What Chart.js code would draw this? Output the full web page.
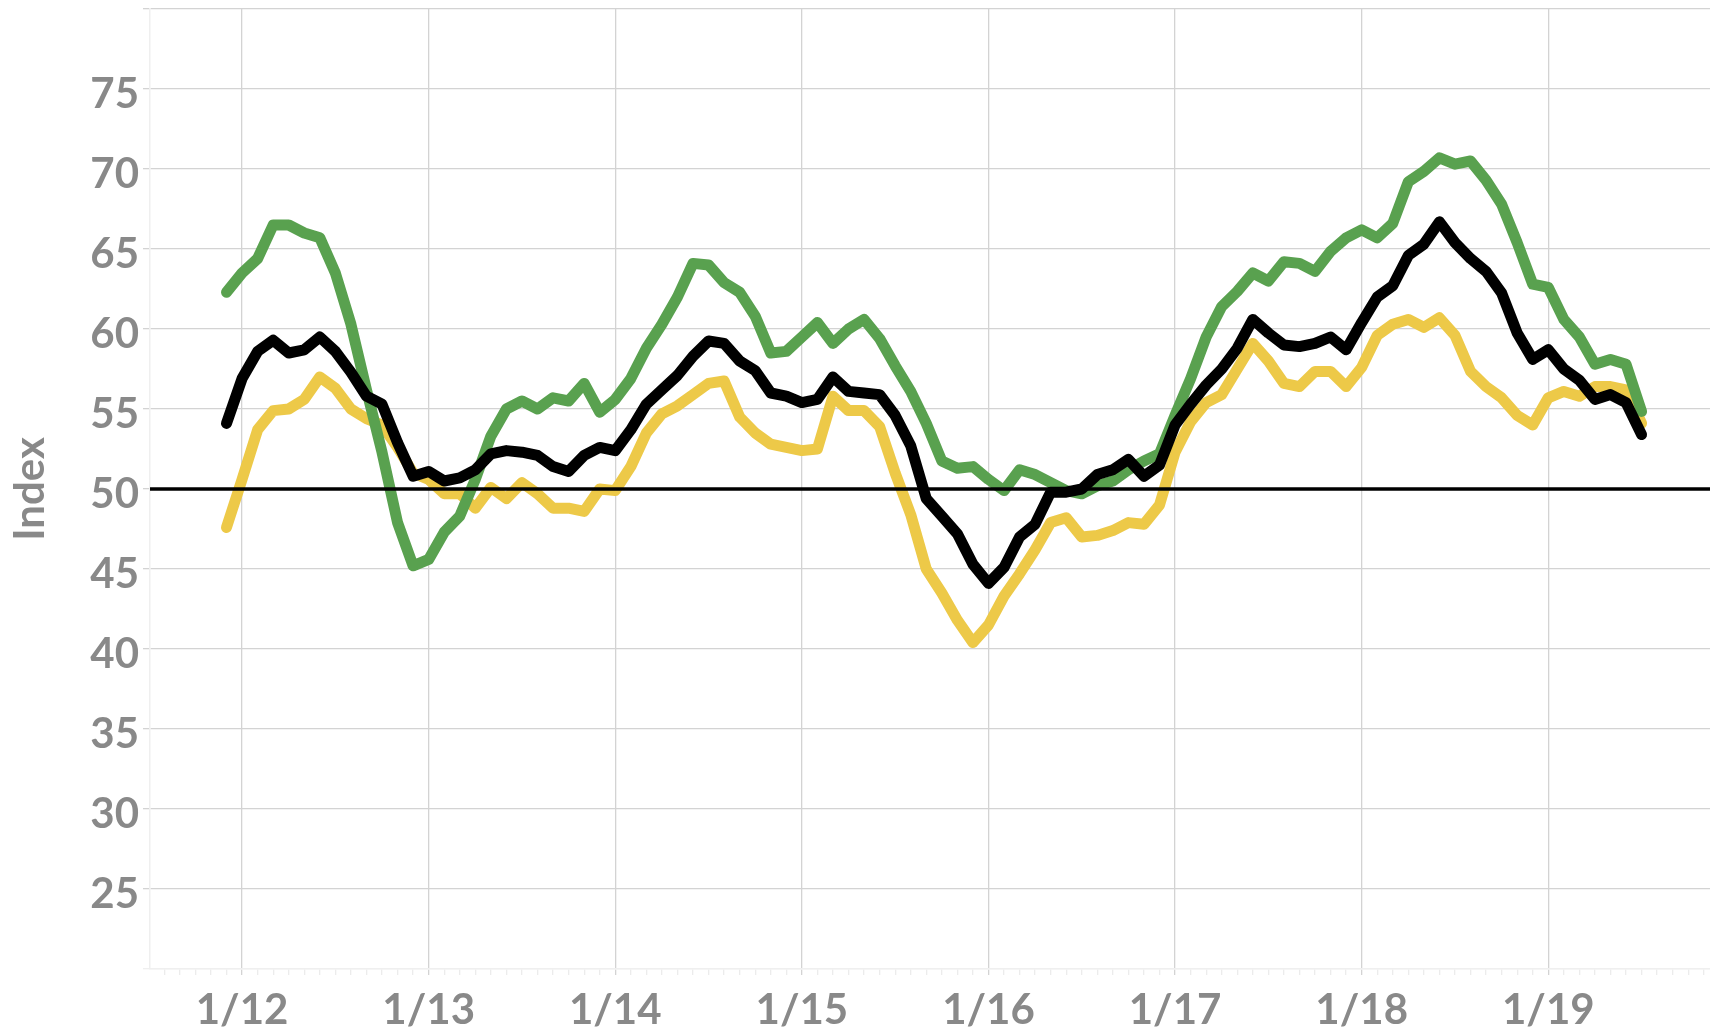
<!DOCTYPE html>
<html>
<head>
<meta charset="utf-8">
<script src="https://cdn.jsdelivr.net/npm/chart.js@4.4.1/dist/chart.umd.min.js"></script>
<style>
  html, body { margin: 0; padding: 0; background: #fff; }
  #wrap { width: 1710px; height: 1034px; }
</style>
</head>
<body>
<div id="wrap"><canvas id="lineGraph"></canvas></div>
<script>
// month index: 0 = Jan 2012, first point is Dec 2011
const FIRST_MONTH = -1;
const yearLabels = ['1/12', '1/13', '1/14', '1/15', '1/16', '1/17', '1/18', '1/19'];

const greenValues = [
  62.3, 63.5, 64.4, 66.5, 66.5, 66.0, 65.7, 63.5, 60.3, 56.2, 52.3, 47.9,
  45.2, 45.6, 47.3, 48.3, 50.6, 53.3, 55.0, 55.5, 55.0, 55.7, 55.5, 56.6, 54.8,
  55.6, 56.9, 58.8, 60.3, 62.0, 64.1, 64.0, 62.9, 62.3, 60.8, 58.5, 58.6,
  59.5, 60.4, 59.1, 60.0, 60.6, 59.4, 57.7, 56.1, 54.1, 51.75, 51.3, 51.4,
  50.6, 49.9, 51.2, 50.9, 50.4, 49.9, 49.7, 50.2, 50.5, 51.2, 51.75, 52.2,
  54.6, 56.9, 59.5, 61.4, 62.35, 63.5, 63.0, 64.2, 64.1, 63.6, 64.85, 65.7,
  66.2, 65.7, 66.6, 69.2, 69.85, 70.7, 70.3, 70.5, 69.3, 67.8, 65.4, 62.8,
  62.6, 60.6, 59.5, 57.8, 58.1, 57.8, 54.85
];

const blackValues = [
  54.1, 56.9, 58.6, 59.3, 58.5, 58.7, 59.5, 58.6, 57.3, 55.8, 55.3, 52.9,
  50.8, 51.1, 50.5, 50.7, 51.2, 52.2, 52.4, 52.3, 52.1, 51.4, 51.1, 52.1, 52.6,
  52.4, 53.7, 55.3, 56.2, 57.1, 58.3, 59.25, 59.1, 58.0, 57.4, 56.0, 55.8,
  55.4, 55.6, 57.0, 56.1, 56.0, 55.9, 54.6, 52.7, 49.4, 48.3, 47.2, 45.3,
  44.1, 45.1, 47.0, 47.8, 49.8, 49.8, 50.0, 50.9, 51.2, 51.85, 50.8, 51.5,
  54.0, 55.3, 56.5, 57.5, 58.8, 60.6, 59.75, 59.0, 58.9, 59.1, 59.5, 58.7,
  60.4, 62.0, 62.7, 64.6, 65.3, 66.7, 65.4, 64.4, 63.6, 62.25, 59.75, 58.1,
  58.7, 57.5, 56.8, 55.6, 55.9, 55.4, 53.4
];

const yellowValues = [
  47.6, 50.6, 53.7, 54.9, 55.0, 55.6, 57.0, 56.3, 55.0, 54.4, 54.0, 52.6,
  51.0, 50.6, 49.7, 49.7, 48.8, 50.1, 49.4, 50.4, 49.7, 48.8, 48.8, 48.6, 50.0,
  49.9, 51.4, 53.5, 54.7, 55.2, 55.9, 56.6, 56.75, 54.5, 53.5, 52.8, 52.6,
  52.4, 52.5, 55.8, 54.9, 54.9, 53.9, 51.0, 48.4, 45.0, 43.5, 41.8, 40.4,
  41.5, 43.3, 44.7, 46.2, 47.9, 48.2, 47.0, 47.1, 47.4, 47.9, 47.8, 49.0,
  52.3, 54.2, 55.4, 55.9, 57.5, 59.1, 58.0, 56.6, 56.4, 57.35, 57.35, 56.4,
  57.6, 59.6, 60.3, 60.6, 60.1, 60.7, 59.6, 57.35, 56.4, 55.7, 54.6, 54.0,
  55.7, 56.1, 55.8, 56.4, 56.4, 56.2, 54.1
];

const BASELINE = 50;
const TEXT_GRAY = '#898989';
const GRID = '#d3d3d3';
const FONT = { family: 'Lato', size: 42, weight: 'bold' };

function toPoints(values) {
  return values.map((v, i) => ({ x: FIRST_MONTH + i, y: v }));
}

// horizontal line at 50
const baselinePlugin = {
  id: 'baseline',
  afterDatasetsDraw(chart) {
    const ctx = chart.ctx;
    const area = chart.chartArea;
    const y = chart.scales.y.getPixelForValue(BASELINE);
    ctx.save();
    ctx.strokeStyle = '#000';
    ctx.lineWidth = 3.5;
    ctx.beginPath();
    ctx.moveTo(area.left, y);
    ctx.lineTo(area.right, y);
    ctx.stroke();
    ctx.restore();
  }
};

function lineSet(values, color, order) {
  return {
    data: toPoints(values),
    borderColor: color,
    backgroundColor: color,
    borderWidth: 11,
    borderCapStyle: 'round',
    borderJoinStyle: 'round',
    pointRadius: 0,
    tension: 0,
    order: order
  };
}

const ctx = document.getElementById('lineGraph').getContext('2d');
const myChart = new Chart(ctx, {
  type: 'line',
  data: {
    datasets: [
      lineSet(blackValues, '#000000', 1),
      lineSet(greenValues, '#59a14f', 2),
      lineSet(yellowValues, '#edc948', 3)
    ]
  },
  options: {
    responsive: true,
    maintainAspectRatio: false,
    animation: false,
    layout: { padding: { top: 9, right: 0, bottom: 0, left: 0 } },
    plugins: {
      legend: { display: false },
      tooltip: { enabled: false }
    },
    scales: {
      x: {
        type: 'linear',
        min: -5.92,
        max: 94.4,
        afterBuildTicks: function(scale) {
          const ticks = [];
          for (let m = -5; m <= 94; m++) ticks.push({ value: m });
          scale.ticks = ticks;
        },
        afterFit: function(scale) {
          scale.height = 65;
          scale.paddingLeft = 0;
          scale.paddingRight = 0;
        },
        grid: {
          color: c => (c.tick && c.tick.value % 12 === 0) ? GRID : 'rgba(0,0,0,0)',
          tickColor: c => (c.tick && c.tick.value % 12 === 0) ? GRID : '#ececec',
          tickLength: 6,
          lineWidth: 1.3
        },
        border: { display: true, color: '#efefef', width: 1.5 },
        ticks: {
          autoSkip: false,
          maxRotation: 0,
          padding: 10,
          color: TEXT_GRAY,
          font: FONT,
          callback: function(value) {
            if (value % 12 !== 0) return '';
            const idx = value / 12;
            return yearLabels[idx] || '';
          }
        }
      },
      y: {
        min: 20,
        max: 80,
        afterFit: function(scale) {
          scale.width = 150;
          scale.paddingTop = 0;
          scale.paddingBottom = 0;
        },
        grid: {
          color: c => (c.tick && c.tick.value === 20) ? '#efefef' : GRID,
          tickLength: 7,
          lineWidth: 1.3
        },
        border: { display: true, color: '#efefef', width: 1.5 },
        ticks: {
          stepSize: 5,
          padding: 4,
          labelOffset: 5,
          color: TEXT_GRAY,
          font: FONT,
          callback: v => (v === 20 || v === 80) ? '' : v
        },
        title: {
          display: true,
          text: 'Index',
          color: TEXT_GRAY,
          font: FONT,
          padding: { top: 5, bottom: 0 }
        }
      }
    }
  },
  plugins: [baselinePlugin]
});
</script>
</body>
</html>
